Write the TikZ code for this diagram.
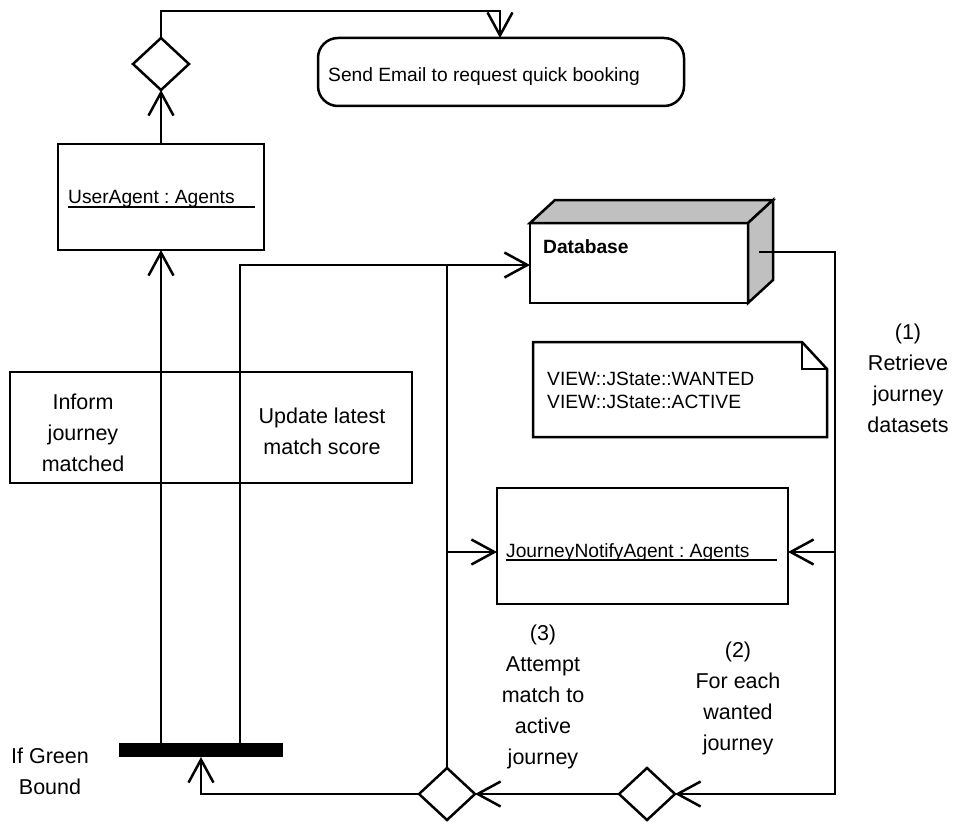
\documentclass[tikz,border=0pt]{standalone}
\usepackage{fontspec}
\setmainfont{Liberation Sans}
\usetikzlibrary{arrows.meta,shapes.geometric}

\newcommand\lblsmall{\fontsize{19.2}{23}\selectfont}
\newcommand\lblbig{\fontsize{21.5}{31}\selectfont}
\definecolor{dbgray}{RGB}{192,192,192}

\tikzset{
  line/.style={line width=2.5pt},
  thinline/.style={line width=2pt},
  arr/.style={line width=2.5pt, -{Straight Barb[length=23pt,width=25pt]}},
  objbox/.style={draw, line width=2.5pt, fill=white, inner sep=0pt, outer sep=0pt},
  actstate/.style={objbox, rounded corners=20pt},
  dec/.style={diamond, draw, line width=2.5pt, fill=white, inner sep=0pt, outer sep=0pt,
              minimum width=56pt, minimum height=52pt},
  lbl/.style={font=\lblbig, align=center, inner sep=0pt},
  txt/.style={font=\lblsmall, inner sep=0pt},
}

\begin{document}
\frenchspacing
\begin{tikzpicture}[x=1pt,y=-1pt]
\useasboundingbox (0,0) rectangle (958,824);

% action state and decision at the top
\node[actstate, minimum width=366pt, minimum height=68pt] (email) at (501,72) {};
\node[txt, anchor=base west] (emailtxt) at (328,82) {Send Email to request quick booking};
\node[dec] (d0) at (161,64) {};

% user agent object
\node[objbox, minimum width=206pt, minimum height=106pt] (ua) at (161,197) {};
\node[txt, anchor=base west] (uatxt) at (68,203) {UserAgent : Agents};
\draw[thinline] (68,207) -- (255,207);

% database node (3D box)
\node[objbox, minimum width=218pt, minimum height=80pt] (db) at (639,263) {};
\draw[line, fill=dbgray, line join=miter] (db.north west) -- ++(25,-23) -- ++(218,0) -- (db.north east) -- cycle;
\draw[line, fill=dbgray, line join=miter] (db.north east) -- ++(25,-23) -- ++(0,80) -- (db.south east) -- cycle;
\node[txt, anchor=base west, font=\lblsmall\bfseries] (dbtxt) at (543,253) {Database};

% note with folded corner
\node[minimum width=294pt, minimum height=95pt, inner sep=0pt, outer sep=0pt] (note) at (680,389.5) {};
\draw[line, fill=white] (note.north west) -- ([xshift=-25pt]note.north east)
  -- ([yshift=-27pt]note.north east) -- (note.south east) -- (note.south west) -- cycle;
\draw[line] ([xshift=-25pt]note.north east) -- ([xshift=-25pt,yshift=-27pt]note.north east)
  -- ([yshift=-27pt]note.north east);
\node[txt, anchor=base west] (n1) at (547,385) {VIEW::JState::WANTED};
\node[txt, anchor=base west] (n2) at (547,408) {VIEW::JState::ACTIVE};

% journey notify agent object
\node[objbox, minimum width=291pt, minimum height=116pt] (jna) at (642.5,546) {};
\node[txt, anchor=base west] (jnatxt) at (506,557) {JourneyNotifyAgent : Agents};
\draw[thinline] (506,560) -- (777,560);

% activity box crossed by the two flows
\node[objbox, fill=none, minimum width=402pt, minimum height=111pt] (act) at (211,427.5) {};
\node[lbl] (inform) at (83,433) {Inform\\journey\\matched};
\node[lbl] (update) at (322,431) {Update latest\\match score};

% synchronisation bar and bottom decisions
\node[fill=black, minimum width=164pt, minimum height=14pt, inner sep=0pt, outer sep=0pt] (bar) at (201,750) {};
\node[dec] (d1) at (447,794) {};
\node[dec] (d2) at (647,794) {};

% labels
\node[lbl] (l1) at (908,378) {(1)\\Retrieve\\journey\\datasets};
\node[lbl] (l2) at (738,698) {(2)\\For each\\wanted\\journey};
\node[lbl] (l3) at (543,697) {(3)\\Attempt\\match to\\active\\journey};
\node[lbl] (lg) at (50,771) {If Green\\Bound};

% routing points
\coordinate (cTop) at (500,11);
\coordinate (cDbOut) at (759,252);
\coordinate (cRight) at (835,252);
\coordinate (cRn) at (835,552);
\coordinate (cUp) at (240,265);
\coordinate (cJ) at (447,265);
\coordinate (cJn) at (447,552);

% connectors
\draw[arr] (ua.north) -- (d0.south);
\draw[arr] (d0.north) |- (cTop) -- (cTop |- email.north);
\draw[arr] (bar.north -| ua.south) -- (ua.south);
\draw[arr] (bar.north -| cUp) -- (cUp) -- (cUp -| db.west);
\draw[line] (d1.north) -- (cJ);
\draw[arr] (cJn) -- (cJn -| jna.west);
\draw[arr] (cDbOut) -| (cRight |- d2.east) -- (d2.east);
\draw[arr] (cRn) -- (cRn -| jna.east);
\draw[arr] (d2.west) -- (d1.east);
\draw[arr] (d1.west) -| (bar.south);
\end{tikzpicture}
\end{document}
